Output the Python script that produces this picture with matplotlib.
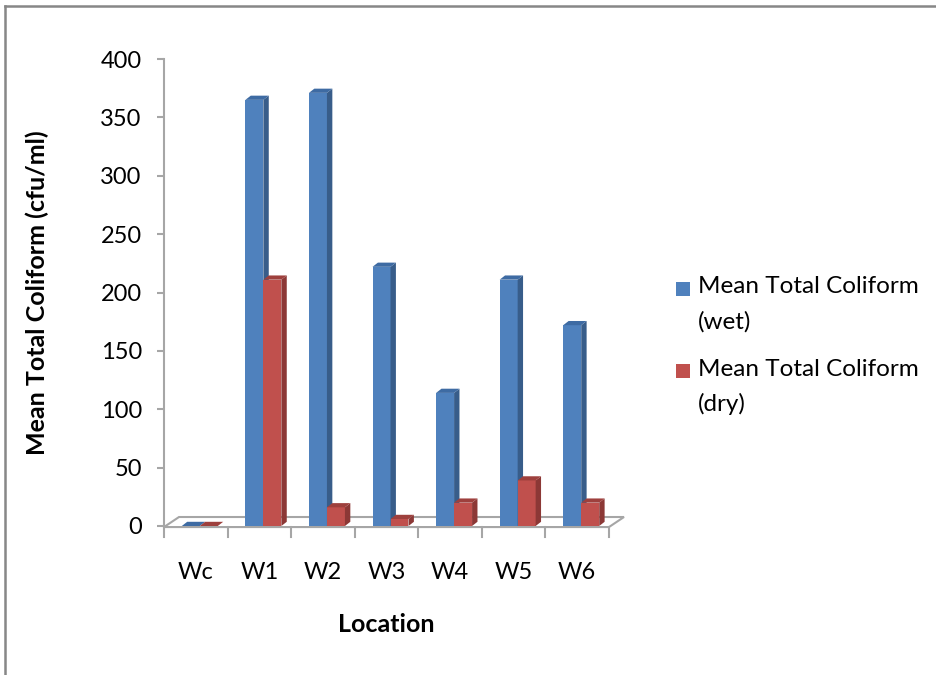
import matplotlib
matplotlib.use("Agg")
import matplotlib.pyplot as plt
from matplotlib.patches import Polygon, Rectangle
from matplotlib.lines import Line2D

plt.rcParams['font.family'] = ['Lato', 'DejaVu Sans']

# data
locations = ['Wc', 'W1', 'W2', 'W3', 'W4', 'W5', 'W6']
wet = [0, 365, 371, 222, 114, 211, 172]
dry = [0, 211, 16, 6, 20, 39, 20]
legend_labels = [('Mean Total Coliform', '(wet)'), ('Mean Total Coliform', '(dry)')]

blue = ['#4F81BD', '#385D8A', '#3E6BA3']   # front, side, top
red = ['#C0504D', '#8C3836', '#9E403D']

fig = plt.figure(figsize=(9.36, 6.75), dpi=100)
W, H = 936, 675
ax = fig.add_axes([164 / W, 1 - 526 / H, (609 - 164) / W, (526 - 59) / H])
ax.set_xlim(-0.5, len(locations) - 0.5)
ax.set_ylim(0, 400)

# fake 3d depth offsets in data units
dx, dy = 0.085, 3.6
bw = 0.283

def draw_series(vals, offset, cols, z):
    bars = ax.bar([i + offset for i in range(len(vals))], vals, bw, align='edge',
                  color=cols[0], zorder=z, linewidth=0)
    for b in bars:
        x0, x1, h = b.get_x(), b.get_x() + b.get_width(), b.get_height()
        side = Polygon([(x1, 0), (x1 + dx, dy), (x1 + dx, h + dy), (x1, h)],
                       closed=True, facecolor=cols[1], edgecolor='none', zorder=z)
        top = Polygon([(x0, h), (x0 + dx, h + dy), (x1 + dx, h + dy), (x1, h)],
                      closed=True, facecolor=cols[2], edgecolor='none', zorder=z)
        ax.add_patch(side)
        ax.add_patch(top)

draw_series(wet, -0.22, blue, 2)
draw_series(dry, -0.22 + bw, red, 3)

# floor
n = len(locations)
fy0, fy1, fdx = -0.9, 7.7, 0.236
floor = Polygon([(-0.5, fy0), (n - 0.5, fy0), (n - 0.5 + fdx, fy1), (-0.5 + fdx, fy1)],
                closed=True, facecolor='white', edgecolor='#A6A6A6', linewidth=1.5,
                zorder=1, clip_on=False)
ax.add_patch(floor)

for s in ['top', 'right', 'bottom']:
    ax.spines[s].set_visible(False)
ax.spines['left'].set_color('#A6A6A6')
ax.spines['left'].set_linewidth(1.5)
ax.spines['left'].set_bounds(fy0, 400)

ax.set_yticks(range(0, 401, 50))
ax.tick_params(axis='y', length=5, width=1.5, color='#A6A6A6', pad=11, labelsize=17)

ax.set_xticks(range(n))
ax.set_xticklabels(locations)
ax.tick_params(axis='x', which='major', length=0, pad=26, labelsize=17)
for xb in [i - 0.5 for i in range(n + 1)]:
    ax.plot([xb, xb], [fy0, fy0 - 8.5], color='#A6A6A6', lw=1.5, clip_on=False, zorder=1)

ax.set_ylabel('Mean Total Coliform (cfu/ml)', fontsize=18, fontweight='bold')
ax.yaxis.label.set_va('center')
ax.yaxis.set_label_coords(-0.285, 0.5)
ax.set_xlabel('Location', fontsize=18, fontweight='bold')
ax.xaxis.label.set_va('center')
ax.xaxis.set_label_coords(0.5, -0.21)

# legend drawn by hand so the square sits on the first line
for k, (lab, cols) in enumerate(zip(legend_labels, [blue, red])):
    ytop = 282 + k * 82
    fig.patches.append(Rectangle((676 / W, 1 - (ytop + 14) / H), 14 / W, 14 / H,
                                 transform=fig.transFigure, facecolor=cols[0],
                                 edgecolor='none'))
    fig.text(698 / W, 1 - (ytop + 5) / H, lab[0], fontsize=17.5, va='center', ha='left')
    fig.text(698 / W, 1 - (ytop + 40) / H, lab[1], fontsize=17.5, va='center', ha='left')

# outer chart border (only left and top visible in the crop)
fig.add_artist(Line2D([5 / W, 5 / W], [0, 1 - 6 / H], transform=fig.transFigure,
                      color='#878787', lw=1.8))
fig.add_artist(Line2D([5 / W, 1], [1 - 6 / H, 1 - 6 / H], transform=fig.transFigure,
                      color='#878787', lw=1.8))

fig.savefig('out.png', dpi=100)
